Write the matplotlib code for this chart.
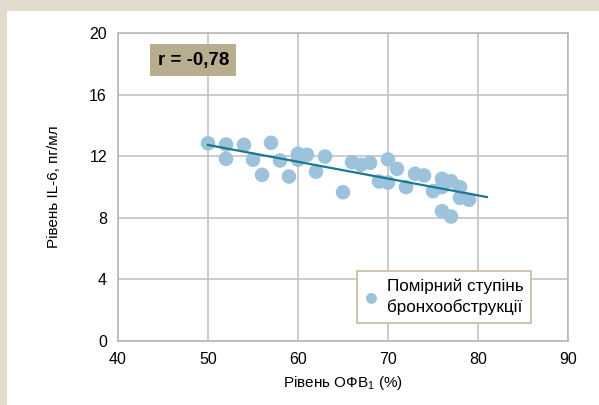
import numpy as np
import matplotlib
matplotlib.use("Agg")
import matplotlib.pyplot as plt
from matplotlib.patches import Rectangle

plt.rcParams["font.family"] = ["Liberation Sans", "DejaVu Sans"]
plt.rcParams["mathtext.fontset"] = "custom"
plt.rcParams["mathtext.rm"] = "Liberation Sans"

# FEV1 (%) vs IL-6 (pg/ml)
fev1 = [50, 52, 52, 54, 55, 56, 57, 58, 59, 60, 60, 61, 62, 63, 65, 66, 67,
        68, 69, 70, 70, 71, 72, 73, 74, 75, 76, 76, 77, 76, 77, 78, 78, 79]
il6 = [12.84, 12.76, 11.83, 12.74, 11.77, 10.79, 12.87, 11.72, 10.68, 12.16,
       11.77, 12.09, 11.0, 11.98, 9.66, 11.61, 11.44, 11.57, 10.36, 11.79,
       10.29, 11.18, 9.99, 10.86, 10.75, 9.73, 10.53, 9.99, 10.38, 8.43,
       8.08, 9.99, 9.3, 9.17]
trend_x = [50, 81]

x_ticks = [40, 50, 60, 70, 80, 90]
y_ticks = [0, 4, 8, 12, 16, 20]

fig = plt.figure(figsize=(5.99, 4.05), dpi=100, facecolor="#e2dccf")
fig.patches.append(Rectangle((7 / 599, 0), 1, 1 - 11 / 405, transform=fig.transFigure,
                             facecolor="white", edgecolor="none", zorder=-5))
ax = fig.add_axes([118 / 599, 1 - 341 / 405, 450 / 599, 308 / 405])

k, b = np.polyfit(fev1, il6, 1)
tx = np.array(trend_x)
ax.scatter(fev1, il6, s=110, color="#9dc3dc", edgecolors="none", zorder=3,
           label="Помірний ступінь\nбронхообструкції")
ax.plot(tx, k * tx + b, color="#1b7893", lw=1.6, zorder=4)

ax.set_xlim(40, 90)
ax.set_ylim(0, 20)
ax.set_xticks(x_ticks)
ax.set_yticks(y_ticks)
ax.grid(True, color="#c4c4c4", lw=1.2)
ax.set_axisbelow(True)
for s in ax.spines.values():
    s.set_color("#b8b8b8")
    s.set_linewidth(1.2)
ax.tick_params(length=0, labelsize=11.5, pad=8)

ax.set_xlabel("Рівень ОФВ$_1$ (%)", fontsize=11, labelpad=5)
ax.set_ylabel("Рівень IL-6, пг/мл", fontsize=11, labelpad=20)

ax.text(0.088, 0.912, "r = -0,78", transform=ax.transAxes, fontsize=13.5,
        fontweight="bold", va="center", ha="left",
        bbox=dict(boxstyle="square,pad=0.4", facecolor="#b8ad8f", edgecolor="none"))

leg = ax.legend(loc="lower left", bbox_to_anchor=(0.531, 0.058), fontsize=12.3,
                frameon=True, fancybox=False, edgecolor="#c8bb9a", framealpha=1,
                handletextpad=0.5, borderpad=0.45, handlelength=0.8,
                borderaxespad=0, markerscale=0.75)
leg.get_frame().set_linewidth(1.2)
for t in leg.get_texts():
    t.set_linespacing(1.45)

fig.savefig("out.png", dpi=100, facecolor=fig.get_facecolor())
